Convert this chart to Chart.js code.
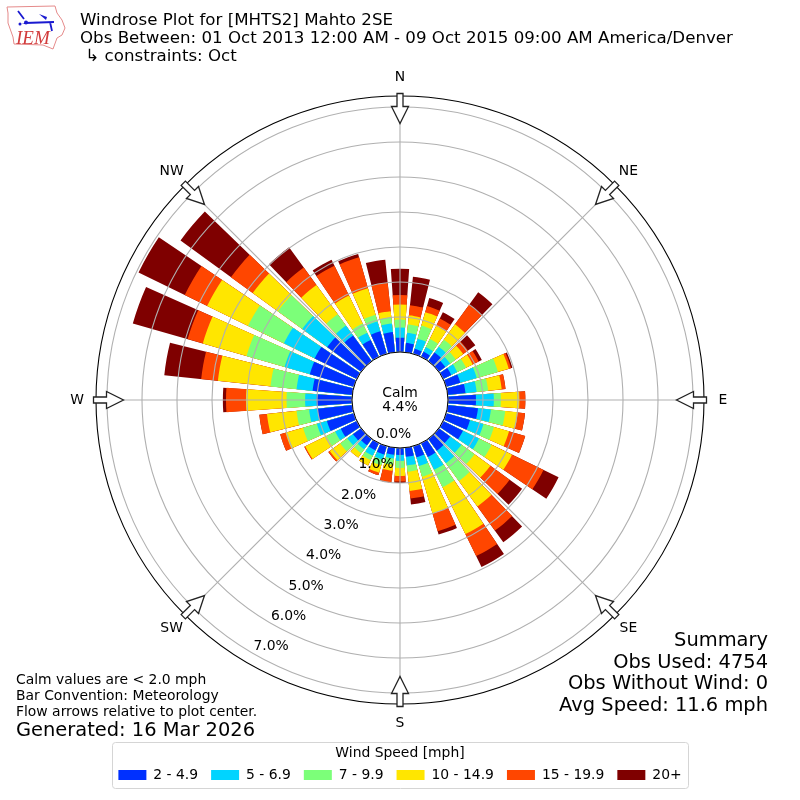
<!DOCTYPE html>
<html>
<head>
<meta charset="utf-8">
<title>Windrose Plot</title>
<script src="https://cdn.jsdelivr.net/npm/chart.js@4"></script>
<style>
  html, body { margin: 0; padding: 0; background: #fff; }
  canvas { display: block; }
</style>
</head>
<body>
<canvas id="rose" width="800" height="800"></canvas>
<script>
// one value per 10 degree direction, clockwise from N, in percent of obs
const speedBands = ["2 - 4.9", "5 - 6.9", "7 - 9.9", "10 - 14.9", "15 - 19.9", "20+"];
const bandColors = ["#0030ff", "#00d4ff", "#7cff79", "#ffe600", "#ff4600", "#7f0000"];
const band2to5 = [.41,.27,.15,.16,.31,.23,.26,.42,.51,.80,.87,.71,.63,.40,.42,.44,.33,.26,.20,.20,.25,.23,.23,.29,.51,.80,1.0,1.01,1.14,1.31,1.34,1.2,.91,.54,.67,.58];
const band5to7 = [.29,.29,.30,.15,.20,.17,.19,.49,.32,.51,.37,.40,.51,.40,.44,.41,.26,.25,.17,.11,.15,.17,.14,.20,.18,.30,.24,.33,.46,.75,.98,.88,.35,.23,.29,.25];
const band7to10 = [.23,.24,.39,.26,.25,.20,.28,.63,.33,.20,.41,.31,.40,.46,.63,.55,.32,.18,.20,.18,.17,.14,.14,.25,.28,.41,.36,.53,.75,1.13,1.14,.86,.40,.29,.20,.17];
const band10to15 = [.43,.26,.40,.42,.54,.26,.21,.32,.39,.53,.36,.45,.65,.56,.90,1.49,1.09,.55,.23,.17,.22,.17,.15,.37,.67,.52,.85,1.16,1.51,1.30,1.30,.89,1.03,.89,.79,.18];
const band15to20 = [.27,.29,.18,.23,.70,.17,.19,.07,.11,.17,.21,.48,1.0,.68,.85,.70,.53,.22,.16,.34,.07,0,0,.05,.03,.16,.22,.57,.48,.45,.71,.77,.62,.95,.92,.82];
const band20up = [.75,.82,.24,.20,.43,.26,.10,.04,0,0,0,0,.48,.44,.41,.35,.10,.17,.04,0,0,0,0,0,0,0,0,.09,1.06,1.63,1.47,1.78,.71,.19,.10,.66];
const bandValues = [band2to5, band5to7, band7to10, band10to15, band15to20, band20up];

const compassLabels = ["N", "NE", "E", "SE", "S", "SW", "W", "NW"];
const ringValues = [0, 1, 2, 3, 4, 5, 6, 7];

const rMin = -1.371; // the hole in the middle
const rMax = 7.314;
const barAngle = 8;
const gapAngle = 2;

// bars stack by overdrawing cumulative totals, gaps are zero height slices
function buildDatasets() {
  const running = band2to5.map(() => 0);
  return speedBands.map((label, b) => {
    const data = [];
    bandValues[b].forEach((v, i) => {
      running[i] += v;
      data.push(running[i], rMin);
    });
    return {
      label,
      data,
      rAxisID: "r",
      backgroundColor: bandColors[b],
      borderWidth: 0,
      angle: (ctx) => (ctx.dataIndex % 2 ? gapAngle : barAngle),
    };
  });
}

function text(ctx, str, x, y, size, align, color) {
  ctx.font = `${size}px "DejaVu Sans"`;
  ctx.textAlign = align || "left";
  ctx.textBaseline = "middle";
  ctx.fillStyle = color || "#000";
  ctx.fillText(str, x, y);
}

function drawArrow(ctx, compass, i) {
  const angle = compass.getIndexAngle(i);
  ctx.save();
  ctx.translate(compass.xCenter, compass.yCenter);
  ctx.rotate(angle);
  ctx.beginPath();
  ctx.moveTo(-3, -306.5);
  ctx.lineTo(3, -306.5);
  ctx.lineTo(3, -293.5);
  ctx.lineTo(8.5, -293.5);
  ctx.lineTo(0, -276.5);
  ctx.lineTo(-8.5, -293.5);
  ctx.lineTo(-3, -293.5);
  ctx.closePath();
  ctx.fillStyle = "#fff";
  ctx.fill();
  ctx.strokeStyle = "#222";
  ctx.lineWidth = 1.3;
  ctx.stroke();
  ctx.restore();
}

function drawLogo(ctx) {
  const outline = [[7,7],[55,6],[57,13],[62,20],[65,28],[62,35],[57,38],[53,49],[43,45],[14,44],[13,37],[8,23],[8,13]];
  ctx.save();
  ctx.beginPath();
  outline.forEach((p, i) => (i ? ctx.lineTo(p[0], p[1]) : ctx.moveTo(p[0], p[1])));
  ctx.closePath();
  ctx.strokeStyle = "#e58a8a";
  ctx.lineWidth = 1;
  ctx.stroke();
  ctx.strokeStyle = "#1a1ad0";
  ctx.fillStyle = "#1a1ad0";
  ctx.lineWidth = 1.8;
  ctx.beginPath();
  ctx.moveTo(25, 23);
  ctx.lineTo(54, 22);
  ctx.moveTo(18, 11);
  ctx.lineTo(24, 19);
  ctx.moveTo(50, 22);
  ctx.lineTo(52, 31);
  ctx.stroke();
  ctx.beginPath();
  ctx.moveTo(39, 14);
  ctx.lineTo(47, 17);
  ctx.lineTo(46, 20);
  ctx.closePath();
  ctx.fill();
  ctx.beginPath();
  ctx.arc(26, 22.5, 2, 0, Math.PI * 2);
  ctx.arc(20, 24, 1.5, 0, Math.PI * 2);
  ctx.fill();
  ctx.font = 'italic 19px "Liberation Serif"';
  ctx.textAlign = "left";
  ctx.textBaseline = "alphabetic";
  ctx.fillStyle = "#d23c3c";
  ctx.fillText("IEM", 16, 44);
  ctx.restore();
}

const roseDecor = {
  id: "roseDecor",
  beforeDraw(chart) {
    const { ctx } = chart;
    ctx.save();
    ctx.beginPath();
    ctx.roundRect(112.5, 742.5, 576, 46, 3);
    ctx.strokeStyle = "#d5d5d5";
    ctx.lineWidth = 1;
    ctx.stroke();
    ctx.restore();
  },
  afterDraw(chart) {
    const { ctx } = chart;
    const r = chart.scales.r;
    const compass = chart.scales.compass;

    compassLabels.forEach((label, i) => {
      drawArrow(ctx, compass, i);
      const p = compass.getPointPosition(i, 323);
      text(ctx, label, p.x, p.y, 13.9, "center");
    });

    // calm disc
    const hole = r.getDistanceFromCenterForValue(0);
    ctx.beginPath();
    ctx.arc(r.xCenter, r.yCenter, hole, 0, Math.PI * 2);
    ctx.fillStyle = "#fff";
    ctx.fill();
    ctx.strokeStyle = "#000";
    ctx.lineWidth = 1;
    ctx.stroke();
    text(ctx, "Calm", r.xCenter, 393, 13.9, "center");
    text(ctx, "4.4%", r.xCenter, 407, 13.9, "center");

    // percent labels run down the 210 degree line
    ringValues.forEach((v) => {
      const d = r.getDistanceFromCenterForValue(v);
      const x = r.xCenter - d * Math.sin(Math.PI / 6);
      const y = r.yCenter + d * Math.cos(Math.PI / 6);
      text(ctx, v.toFixed(1) + "%", x, y - 7, 13.9);
    });

    text(ctx, "Windrose Plot for [MHTS2] Mahto 2SE", 80, 21, 16.67);
    text(ctx, "Obs Between: 01 Oct 2013 12:00 AM - 09 Oct 2015 09:00 AM America/Denver", 80, 39, 16.67);
    text(ctx, " \u21B3 constraints: Oct", 80, 56.5, 16.67);

    text(ctx, "Summary", 768, 641, 19.44, "right");
    text(ctx, "Obs Used: 4754", 768, 662.5, 19.44, "right");
    text(ctx, "Obs Without Wind: 0", 768, 684, 19.44, "right");
    text(ctx, "Avg Speed: 11.6 mph", 768, 706, 19.44, "right");

    text(ctx, "Calm values are < 2.0 mph", 16, 680.5, 13.9);
    text(ctx, "Bar Convention: Meteorology", 16, 696.5, 13.9);
    text(ctx, "Flow arrows relative to plot center.", 16, 712.5, 13.9);
    text(ctx, "Generated: 16 Mar 2026", 16, 730.5, 19.44);

    drawLogo(ctx);
  },
};

document.addEventListener("DOMContentLoaded", () => {
  Chart.defaults.font.family = '"DejaVu Sans"';
  Chart.defaults.color = "#000";

  const slots = band2to5.flatMap((_, i) => [String(i * 10), ""]);

  new Chart(document.getElementById("rose"), {
    type: "polarArea",
    data: { labels: slots, datasets: buildDatasets() },
    plugins: [roseDecor],
    options: {
      responsive: false,
      animation: false,
      layout: { padding: { top: 66, left: 96, right: 96, bottom: 8 } },
      scales: {
        r: {
          min: rMin,
          max: rMax,
          startAngle: -barAngle / 2,
          afterBuildTicks(scale) {
            scale.ticks = ringValues.concat(rMax).map((value) => ({ value }));
          },
          angleLines: { display: false },
          pointLabels: { display: false },
          ticks: { display: false },
          grid: {
            circular: true,
            z: 1,
            lineWidth: 1.1,
            color: (c) => (c.tick && c.tick.value === rMax ? "#000" : "#b0b0b0"),
          },
        },
        compass: {
          type: "radialLinear",
          axis: "r",
          labels: compassLabels,
          min: rMin,
          max: rMax,
          startAngle: 0,
          angleLines: { display: true, color: "#b0b0b0", lineWidth: 1.1 },
          pointLabels: { display: false },
          ticks: { display: false },
          grid: { display: false, z: 1 },
        },
      },
      plugins: {
        tooltip: { enabled: false },
        legend: {
          display: true,
          position: "bottom",
          onClick: null,
          title: { display: true, text: "Wind Speed [mph]", font: { size: 13.9 }, padding: { top: 12, bottom: -8 } },
          labels: {
            boxWidth: 28,
            boxHeight: 10,
            padding: 13,
            font: { size: 13.9 },
            generateLabels: (chart) =>
              chart.data.datasets.map((ds, i) => ({
                text: ds.label,
                fillStyle: ds.backgroundColor,
                strokeStyle: ds.backgroundColor,
                lineWidth: 0,
                datasetIndex: i,
              })),
          },
        },
      },
    },
  });
});
</script>
</body>
</html>
